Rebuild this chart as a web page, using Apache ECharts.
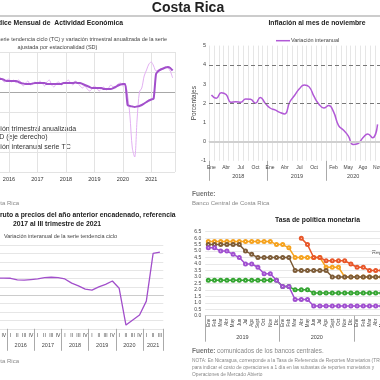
<!DOCTYPE html>
<html><head><meta charset="utf-8">
<script src="https://cdn.jsdelivr.net/npm/echarts@6/dist/echarts.min.js"></script>
<style>html,body{margin:0;padding:0;background:#fff}#c{width:380px;height:380px}</style>
</head><body><div id="c"></div>
<script>
// ---------- Panel 1: IMAE ----------
const imaeStartYear = 2015;
const imaeTC = [
  6,6,6.5,6.5,6.5,7,7,6.5,6.5,6.5,6,5.5,
  5.5,5.5,5.5,5.5,5,4.5,4.25,4,4,4,4.25,4.5,
  4.5,4.5,4.5,4.5,4,4,4,4,4,4,4,4.5,
  4.5,4.5,4.5,4.5,4.75,4.5,4.5,4,3.5,3,2.5,2,
  2,2,2,2,1.5,1.5,1.5,1.5,2,2.5,3.25,3.75,
  4,4,-6.5,-7,-7.25,-7.5,-7.25,-7,-6.5,-5.75,-5,-4.25,
  -3.75,-3.25,9,10.5,11.25,11.75,12.25,12.5,12,10.75
];
const imaeSD = [
  7,6,5,6.5,7.5,6.5,5.5,6,7.5,6.5,5,6,
  6.5,5,6,4.5,6,5,3,4.5,5.5,3.5,4,5,
  4,5.5,4.5,3,5,6,3.5,2.5,4.5,5,3.5,4.5,
  5,6,4.5,3.5,5.5,4.5,3,2,3,1.5,0.5,1.5,
  3,2,0.5,1.5,2.5,1,2,3.5,2.5,3,4,4.5,
  3,3.5,-1.5,-12,-28,-32.5,-14,0,2,8,11,14,
  15,13,10.5,11,11.5,11.5,12.5,12,10.5,7
];
const imaeLegend = ['Variación trimestral anualizada', 'serie SD (eje derecho)', 'Variación interanual serie TC'];

// ---------- Panel 2: Inflación ----------
const monthNames = ['Ene','Feb','Mar','Abr','May','Jun','Jul','Ago','Sept','Oct','Nov','Dic'];
const inflMonthNames = ['Ene','Feb','Mar','Abr','May','Jun','Jul','Ago','Sep','Oct','Nov','Dic'];
const inflYears = ['2018','2019','2020'];
const inflMonthsPerYear = [12,12,11];
const inflValues = [
  2.43,2.26,2.55,2.45,2.05,2.08,2.05,2.22,2.2,2.0,2.3,2.0,
  1.75,1.65,1.52,1.44,2.05,2.4,2.75,2.95,2.85,2.35,1.95,1.75,
  1.88,1.55,0.85,0.6,0.3,-0.15,-0.1,0.2,0.4,0.2,0.9
];
const inflTargetBand = [2,4];

// ---------- Panel 3: PIB ----------
const pibQuarterNames = ['I','II','III','IV'];
const pibYears = ['2015','2016','2017','2018','2019','2020','2021'];
const pibQuartersPerYear = [4,4,4,4,4,4,3];
const pibValues = [
  4.0,4.0,4.1,4.1,
  4.06,3.7,3.6,3.75,
  3.9,4.2,4.3,4.2,
  3.9,2.9,2.25,1.45,
  1.25,2.0,2.6,3.4,
  1.67,-7.1,-5.9,-4.7,
  -1.4,10.0,10.3
];

// ---------- Panel 4: TPM ----------
const tpmYears = ['2019','2020','2021'];
const tpmMonthsPerYear = [12,12,6];
const tpmHonduras = [5.75,5.75,5.75,5.75,5.75,5.75,5.75,5.75,5.75,5.75,5.75,5.5,5.5,5.25,4.5,4.5,4.5,4.5,4.5,3.75,3.75,3.75,3,3,3,3,3,3,3,3];
const tpmRepDom = [5.5,5.5,5.5,5.5,5.5,5.5,5,4.75,4.5,4.5,4.5,4.5,4.5,4.5,3.5,3.5,3.5,3.5,3.5,3.5,3,3,3,3,3,3,3,3,3,3];
const tpmNicaragua = [null,null,null,null,null,null,null,null,null,null,null,null,null,null,null,6,5.5,4.5,4.5,4.25,4.25,4.25,4.25,4,3.75,3.75,3.5,3.5,3.5,3.5];
const tpmGuatemala = [2.75,2.75,2.75,2.75,2.75,2.75,2.75,2.75,2.75,2.75,2.75,2.75,2.25,2.25,2,2,2,1.75,1.75,1.75,1.75,1.75,1.75,1.75,1.75,1.75,1.75,1.75,1.75,1.75];
const tpmCostaRica = [5.25,5.25,5,5,4.75,4.5,4,4,3.75,3.25,3.25,2.75,2.25,2.25,1.25,1.25,1.25,0.75,0.75,0.75,0.75,0.75,0.75,0.75,0.75,0.75,0.75,0.75,0.75,0.75];

// ---------- build helpers ----------
const FONT = "'Liberation Sans', Arial, sans-serif";
function groupCats(lengths, names) {
  const out = [];
  lengths.forEach(n => { for (let i = 0; i < n; i++) out.push(names[i]); });
  return out;
}
function groupEdges(lengths) { const e = [0]; lengths.forEach(n => e.push(e[e.length - 1] + n)); return e; }
function groupCenters(lengths) { const e = groupEdges(lengths); return lengths.map((n, i) => e[i] + n / 2); }

const inflCats = groupCats(inflMonthsPerYear, inflMonthNames);
const pibCats = groupCats(pibQuartersPerYear, pibQuarterNames);
const tpmCats = groupCats(tpmMonthsPerYear, monthNames);

function yearAxis(gridIndex, lengths, names, margin, tickLen, showIdx) {
  const edges = groupEdges(lengths);
  const centers = groupCenters(lengths);
  const total = edges[edges.length - 1];
  const labelVals = showIdx ? centers.filter((c, i) => showIdx.includes(i)) : centers;
  return {
    type: 'value', gridIndex, min: 0, max: total, position: 'bottom',
    axisLine: { show: false }, splitLine: { show: false },
    axisTick: { show: true, customValues: edges, length: tickLen, lineStyle: { color: '#aaa', width: 1 } },
    axisLabel: { show: true, customValues: labelVals, margin, fontSize: 5.5, color: '#444', fontFamily: FONT,
      formatter: v => { const i = centers.indexOf(v); return i >= 0 ? names[i] : ''; } }
  };
}

const chart = echarts.init(document.getElementById('c'), null, { renderer: 'canvas' });

const lightGrid = '#e3e3e3';
const option = {
  animation: false,
  backgroundColor: '#fff',
  textStyle: { fontFamily: FONT },
  grid: [
    { left: -19.5, right: 205, top: 52, bottom: 208, outerBoundsMode: 'none', containLabel: false },
    { left: 209, right: 0, top: 45.6, bottom: 219.2, outerBoundsMode: 'none', containLabel: false },
    { left: -20, right: 216.7, top: 245, bottom: 51.2, outerBoundsMode: 'none', containLabel: false },
    { left: 205.2, right: -11.2, top: 231.7, bottom: 64.3, outerBoundsMode: 'none', containLabel: false }
  ],
  xAxis: [
    { type: 'value', gridIndex: 0, min: 0, max: imaeTC.length, interval: 12,
      axisLine: { show: false }, axisTick: { show: false },
      splitLine: { show: true, lineStyle: { color: lightGrid, width: 1 } },
      axisLabel: { margin: 4, fontSize: 5.5, color: '#333', formatter: v => (v % 12 === 0 ? String(imaeStartYear + v / 12) : '') } },
    { type: 'category', gridIndex: 1, data: inflCats, boundaryGap: true,
      axisLine: { show: true, lineStyle: { color: '#ddd' } }, axisTick: { show: false },
      splitLine: { show: true, interval: 0, lineStyle: { color: '#e6e6e6', width: 1 } },
      axisLabel: { interval: (i) => (i < 24 ? i % 3 === 0 : (i - 25) % 3 === 0), margin: 4, fontSize: 5, color: '#444' } },
    yearAxis(1, inflMonthsPerYear, inflYears, 13, 20),
    { type: 'category', gridIndex: 2, data: pibCats, boundaryGap: true,
      axisLine: { show: true, lineStyle: { color: '#ccc' } }, axisTick: { show: false },
      splitLine: { show: false },
      axisLabel: { interval: 0, margin: 4, fontSize: 5, color: '#444' } },
    yearAxis(2, pibQuartersPerYear, pibYears, 14, 22),
    { type: 'category', gridIndex: 3, data: tpmCats, boundaryGap: true,
      axisLine: { show: true, lineStyle: { color: '#ccc' } }, axisTick: { show: false },
      splitLine: { show: false },
      axisLabel: { interval: 0, rotate: 90, margin: 3, fontSize: 4.5, color: '#444' } },
    yearAxis(3, tpmMonthsPerYear, tpmYears, 19, 26, [0, 1])
  ],
  yAxis: [
    { type: 'value', gridIndex: 0, min: -40, max: 20, interval: 10,
      axisLine: { show: false }, axisTick: { show: false }, axisLabel: { show: false },
      splitLine: { show: true, lineStyle: { color: [lightGrid, lightGrid, lightGrid, lightGrid, '#a8a8a8', lightGrid, lightGrid], width: 1 } } },
    { type: 'value', gridIndex: 0, min: -40, max: 20, interval: 10, position: 'right',
      axisLine: { show: false }, axisTick: { show: false }, axisLabel: { show: false }, splitLine: { show: false } },
    { type: 'value', gridIndex: 1, min: -1, max: 5, interval: 1,
      axisLine: { show: false }, axisTick: { show: false },
      axisLabel: { margin: 3, fontSize: 5.5, color: '#444' },
      splitLine: { show: false },
      name: 'Porcentajes', nameLocation: 'middle', nameRotate: 90, nameGap: 10,
      nameTextStyle: { fontSize: 6.5, color: '#444' } },
    { type: 'value', gridIndex: 2, min: -8, max: 12, interval: 2,
      axisLine: { show: false }, axisTick: { show: false }, axisLabel: { show: false },
      splitLine: { show: true, lineStyle: { color: ['#e6e6e6', '#e6e6e6', '#e6e6e6', '#e6e6e6', '#bdbdbd', '#e6e6e6', '#e6e6e6', '#e6e6e6', '#e6e6e6', '#e6e6e6', '#e6e6e6'], width: 1 } } },
    { type: 'value', gridIndex: 3, min: 0, max: 6.5, interval: 0.5,
      axisLine: { show: false }, axisTick: { show: false },
      axisLabel: { margin: 4, fontSize: 5, color: '#444', formatter: v => v.toFixed(1) },
      splitLine: { show: true, lineStyle: { color: '#e8e8e8', width: 1 } } }
  ],
  series: [
    { type: 'line', xAxisIndex: 0, yAxisIndex: 1, data: imaeSD.map((v, i) => [i, v]), smooth: 0.3,
      showSymbol: false, lineStyle: { color: '#e2b0f2', width: 1 }, z: 2 },
    { type: 'line', xAxisIndex: 0, yAxisIndex: 0, data: imaeTC.map((v, i) => [i, v]), smooth: 0.2,
      showSymbol: false, lineStyle: { color: '#a24fcb', width: 2 }, z: 3 },
    { type: 'line', xAxisIndex: 1, yAxisIndex: 2, data: inflValues, smooth: true,
      showSymbol: false, lineStyle: { color: '#b159d6', width: 1.5 }, z: 3,
      markLine: { silent: true, symbol: 'none', label: { show: false },
        data: [
          { yAxis: inflTargetBand[1], lineStyle: { color: '#777', type: [4, 3], width: 1.2 } },
          { yAxis: inflTargetBand[0], lineStyle: { color: '#777', type: [4, 3], width: 1.2 } },
          { yAxis: 0, lineStyle: { color: '#d0d0d0', type: 'solid', width: 2 } }
        ] } },
    { type: 'line', xAxisIndex: 3, yAxisIndex: 3, data: pibValues,
      showSymbol: false, lineStyle: { color: '#a24fcb', width: 1.3 }, z: 3 },
    { type: 'line', xAxisIndex: 5, yAxisIndex: 4, data: tpmHonduras, symbol: 'emptyCircle', symbolSize: 3,
      itemStyle: { color: '#f5a21e' }, lineStyle: { color: '#f5a21e', width: 1.5 }, z: 3 },
    { type: 'line', xAxisIndex: 5, yAxisIndex: 4, data: tpmNicaragua, symbol: 'emptyCircle', symbolSize: 3,
      itemStyle: { color: '#e8572a' }, lineStyle: { color: '#e8572a', width: 1.5 }, z: 4 },
    { type: 'line', xAxisIndex: 5, yAxisIndex: 4, data: tpmRepDom, symbol: 'emptyCircle', symbolSize: 3,
      itemStyle: { color: '#7d5c38' }, lineStyle: { color: '#7d5c38', width: 1.5 }, z: 5 },
    { type: 'line', xAxisIndex: 5, yAxisIndex: 4, data: tpmGuatemala, symbol: 'emptyCircle', symbolSize: 3,
      itemStyle: { color: '#35a532' }, lineStyle: { color: '#35a532', width: 1.5 }, z: 5 },
    { type: 'line', xAxisIndex: 5, yAxisIndex: 4, data: tpmCostaRica, symbol: 'emptyCircle', symbolSize: 3,
      itemStyle: { color: '#a04fd0' }, lineStyle: { color: '#a04fd0', width: 1.5 }, z: 6 }
  ],
  graphic: [
    { type: 'text', x: 188, y: 8, style: { text: 'Costa Rica', font: "bold 14px " + FONT, fill: '#222', align: 'center', verticalAlign: 'middle' } },
    { type: 'line', shape: { x1: 0, y1: 16, x2: 380, y2: 16 }, style: { stroke: '#999', lineWidth: 1 } },
    { type: 'text', x: 123, y: 23, style: { text: 'Índice Mensual de  Actividad Económica', font: "bold 6.8px " + FONT, fill: '#222', align: 'right', verticalAlign: 'middle' } },
    { type: 'text', x: 57.5, y: 39.5, style: { text: 'Variación interanual serie tendencia ciclo (TC) y variación trimestral anualizada de la serie', font: "5.5px " + FONT, fill: '#444', align: 'center', verticalAlign: 'middle' } },
    { type: 'text', x: 57.5, y: 47, style: { text: 'ajustada por estacionalidad (SD)', font: "5.5px " + FONT, fill: '#444', align: 'center', verticalAlign: 'middle' } },
    { type: 'text', x: -19, y: 129, style: { text: imaeLegend[0], font: "7px " + FONT, fill: '#333', align: 'left', verticalAlign: 'middle' } },
    { type: 'text', x: -22.5, y: 137, style: { text: imaeLegend[1], font: "7px " + FONT, fill: '#333', align: 'left', verticalAlign: 'middle' } },
    { type: 'text', x: -19, y: 147, style: { text: imaeLegend[2], font: "7px " + FONT, fill: '#333', align: 'left', verticalAlign: 'middle' } },
    { type: 'text', x: 19, y: 203, style: { text: 'Banco Central de Costa Rica', font: "6px " + FONT, fill: '#888', align: 'right', verticalAlign: 'middle' } },
    { type: 'text', x: 317, y: 22.7, style: { text: 'Inflación al mes de noviembre', font: "bold 6.8px " + FONT, fill: '#222', align: 'center', verticalAlign: 'middle' } },
    { type: 'line', shape: { x1: 276, y1: 40.7, x2: 290, y2: 40.7 }, style: { stroke: '#b159d6', lineWidth: 1.5 } },
    { type: 'text', x: 291, y: 40.7, style: { text: 'Variación interanual', font: "5.5px " + FONT, fill: '#444', align: 'left', verticalAlign: 'middle' } },
    { type: 'text', x: 192, y: 194, style: { text: 'Fuente:', font: "bold 6.5px " + FONT, fill: '#777', align: 'left', verticalAlign: 'middle' } },
    { type: 'text', x: 192, y: 203, style: { text: 'Banco Central de Costa Rica', font: "6px " + FONT, fill: '#888', align: 'left', verticalAlign: 'middle' } },
    { type: 'text', x: 57, y: 215, style: { text: 'Producto Interno Bruto a precios del año anterior encadenado, referencia', font: "bold 6.8px " + FONT, fill: '#222', align: 'center', verticalAlign: 'middle' } },
    { type: 'text', x: 57, y: 224, style: { text: '2017 al III trimestre de 2021', font: "bold 6.8px " + FONT, fill: '#222', align: 'center', verticalAlign: 'middle' } },
    { type: 'text', x: 117, y: 236.7, style: { text: 'Variación interanual de la serie tendencia ciclo', font: "5.5px " + FONT, fill: '#444', align: 'right', verticalAlign: 'middle' } },
    { type: 'text', x: 19, y: 361, style: { text: 'Banco Central de Costa Rica', font: "6px " + FONT, fill: '#888', align: 'right', verticalAlign: 'middle' } },
    { type: 'text', x: 317.5, y: 220, style: { text: 'Tasa de política monetaria', font: "bold 6.8px " + FONT, fill: '#222', align: 'center', verticalAlign: 'middle' } },
    { type: 'text', x: 372, y: 252.7, style: { text: 'Rep. Dominicana', font: "5.5px " + FONT, fill: '#555', align: 'left', verticalAlign: 'middle' } },
    { type: 'text', x: 192, y: 351.7, style: { text: 'Fuente:', font: "bold 6.5px " + FONT, fill: '#777', align: 'left', verticalAlign: 'middle' } },
    { type: 'text', x: 217, y: 351.7, style: { text: 'comunicados de los bancos centrales.', font: "6.3px " + FONT, fill: '#888', align: 'left', verticalAlign: 'middle' } },
    { type: 'text', x: 192, y: 360.5, style: { text: 'NOTA: En Nicaragua, corresponde a la Tasa de Referencia de Reportes Monetarios (TRM), utilizada', font: "4.8px " + FONT, fill: '#888', align: 'left', verticalAlign: 'middle' } },
    { type: 'text', x: 192, y: 367.5, style: { text: 'para indicar el costo de operaciones a 1 día en las subastas de reportes monetarios y', font: "4.8px " + FONT, fill: '#888', align: 'left', verticalAlign: 'middle' } },
    { type: 'text', x: 192, y: 374.5, style: { text: 'Operaciones de Mercado Abierto', font: "4.8px " + FONT, fill: '#888', align: 'left', verticalAlign: 'middle' } }
  ]
};
chart.setOption(option);
</script>
</body></html>
